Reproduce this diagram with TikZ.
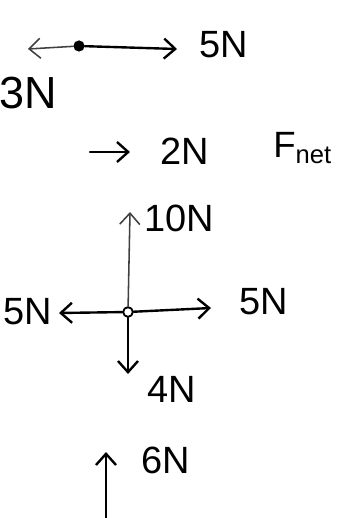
\documentclass[tikz,border=0pt]{standalone}
\usepackage{fontspec}
\setmainfont{Liberation Sans}
\usetikzlibrary{arrows.meta}

\begin{document}
\begin{tikzpicture}[x=0.025cm, y=-0.025cm,
  force/.style={line width=1.7pt, line cap=round, -{Straight Barb[length=2.8mm,width=5mm]}},
  weak force/.style={force, line width=1.1pt, black!75},
  lbl/.style={font=\fontsize{27}{30}\selectfont},
  big lbl/.style={font=\fontsize{32}{36}\selectfont},
  dotpt/.style={circle, fill, inner sep=0pt, minimum size=2.8mm},
  ringpt/.style={circle, draw, fill=white, line width=1.3pt, inner sep=0pt, minimum size=2.4mm}]
  \useasboundingbox (0,0) rectangle (336,518);

  % primo corpo: 5N e 3N
  \node[dotpt] (bodyA) at (79,46) {};
  \coordinate (leftA) at (28,49);
  \coordinate (rightA) at (177,49);
  \draw[weak force] (bodyA) -- (leftA);
  \draw[force] (bodyA) -- (rightA);
  \node[lbl] (fiveA) at (224,45) {5N};
  \node[big lbl] (threeA) at (28,93) {3N};

  % forza netta
  \coordinate (netTail) at (90,152);
  \coordinate (netTip) at (130,152);
  \draw[force] (netTail) -- (netTip);
  \node[lbl] (twoN) at (185,151) {2N};
  \node[font=\fontsize{26}{30}\selectfont, anchor=west, inner sep=0pt] (fnet) at (273,148) {F$_{\mathrm{net}}$};

  % secondo corpo: quattro forze
  \node[ringpt] (bodyB) at (128,312) {};
  \coordinate (upB) at (130,212);
  \coordinate (rightB) at (211,308);
  \coordinate (leftB) at (59,313);
  \coordinate (downB) at (128,374);
  \draw[weak force] (bodyB) -- (upB);
  \draw[force] (bodyB) -- (rightB);
  \draw[force] (bodyB) -- (leftB);
  \draw[force] (bodyB) -- (downB);
  \node[lbl] (tenN) at (179,218) {10N};
  \node[lbl] (fiveR) at (264,302) {5N};
  \node[lbl] (fiveL) at (28,312) {5N};
  \node[lbl] (fourN) at (172,389) {4N};

  % terzo: 6N
  \coordinate (tailC) at (106,518);
  \coordinate (tipC) at (106,452);
  \draw[force] (tailC) -- (tipC);
  \node[lbl] (sixN) at (166,460) {6N};
\end{tikzpicture}
\end{document}
